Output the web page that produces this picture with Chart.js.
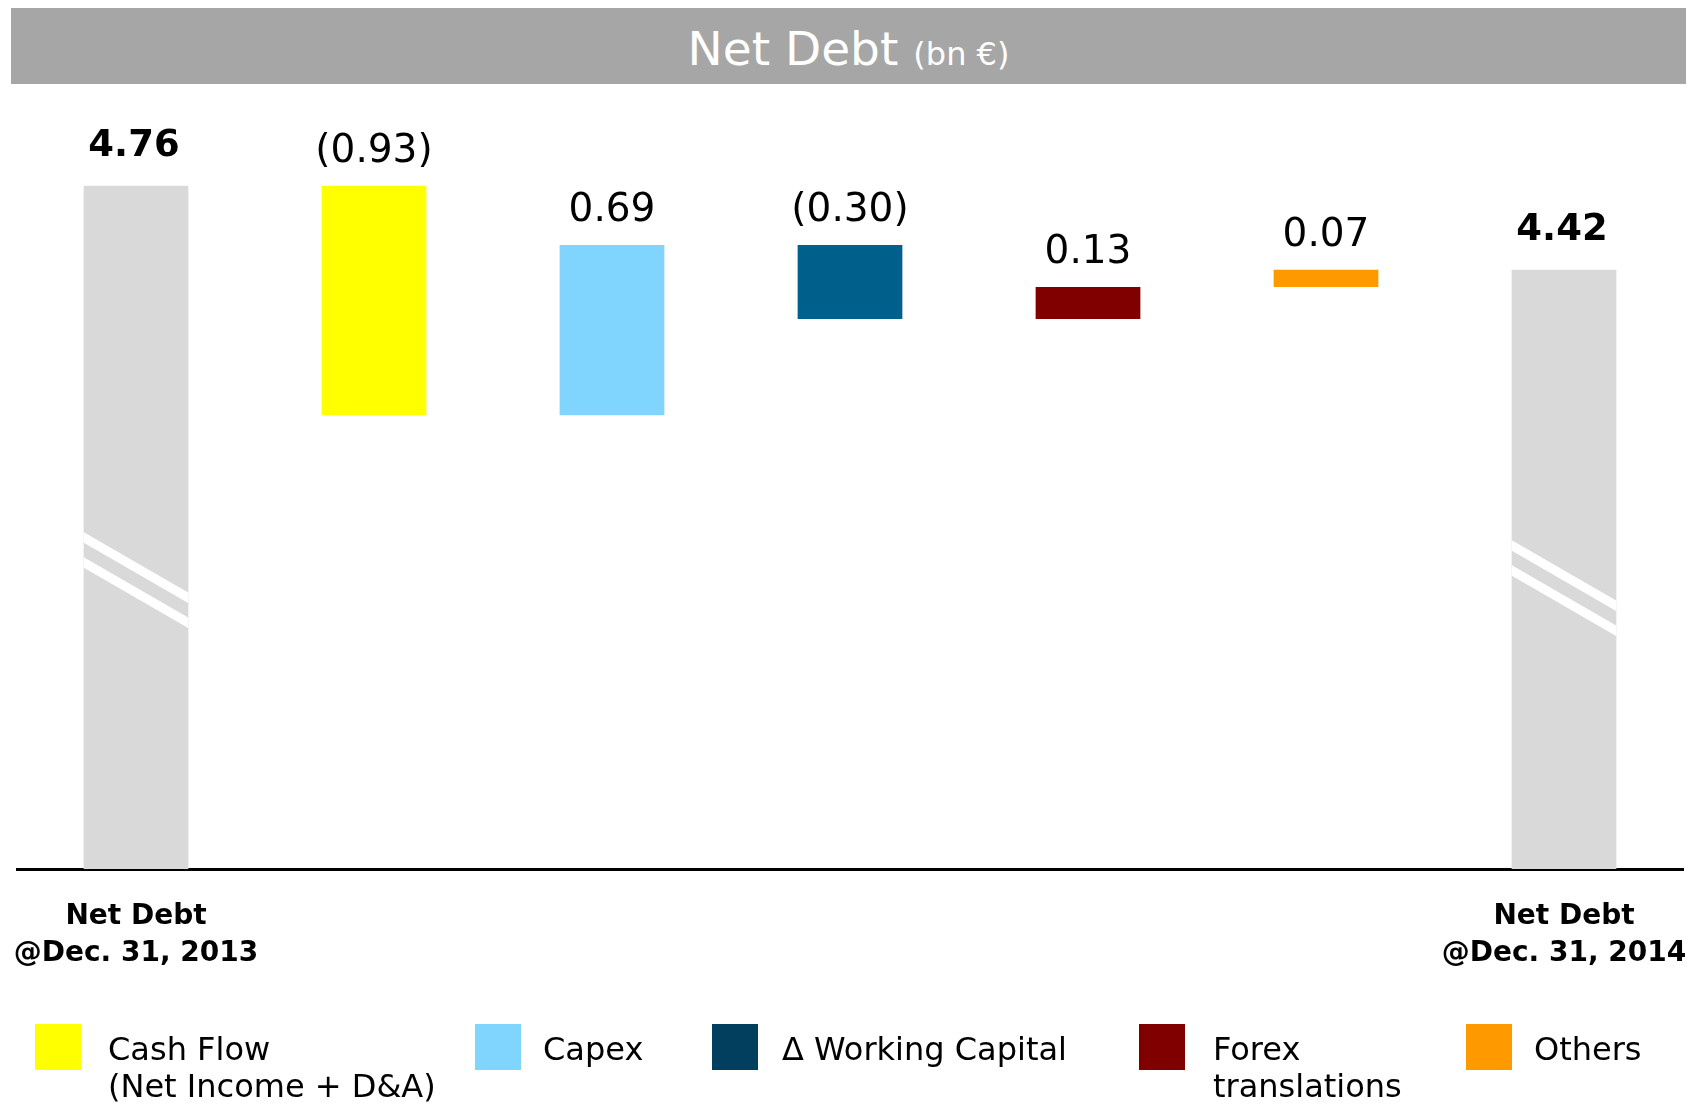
<!DOCTYPE html>
<html>
<head>
<meta charset="utf-8">
<script src="https://cdn.jsdelivr.net/npm/chart.js@4.4.1/dist/chart.umd.min.js"></script>
<style>
  html, body { margin:0; padding:0; background:#ffffff; }
  body { width:1704px; height:1106px; position:relative; overflow:hidden; font-family:"DejaVu Sans", Verdana, sans-serif; }
  #titleBar { position:absolute; left:11px; top:8px; width:1675px; height:76px; background:#A6A6A6; color:#ffffff; text-align:center; }
  #titleBar span.inner { position:relative; top:3px; line-height:76px; white-space:nowrap; }
  #titleBar .main { font-size:47px; }
  #titleBar .unit { font-size:32px; }
  #chartWrap { position:absolute; left:0; top:0; width:1704px; height:1106px; }
  .lg-box { position:absolute; top:1024px; width:46px; height:46px; }
  .lg-text { position:absolute; top:1031px; font-size:32px; line-height:37px; color:#000; white-space:nowrap; }
</style>
</head>
<body>
<div id="chartWrap"><canvas id="c" width="1704" height="1106"></canvas></div>
<div id="titleBar"><span class="inner"><span class="main">Net Debt </span><span class="unit">(bn €)</span></span></div>
<div id="legend"></div>
<script>
// ---- data ----
const categories = ['Net Debt @Dec. 31, 2013', 'Cash Flow', 'Capex', 'Δ Working Capital', 'Forex translations', 'Others', 'Net Debt @Dec. 31, 2014'];
const tickLabels = [['Net Debt', '@Dec. 31, 2013'], '', '', '', '', '', ['Net Debt', '@Dec. 31, 2014']];
const openingDebt = 4.76;
const changes = [-0.93, 0.69, -0.30, 0.13, 0.07];
const closingDebt = 4.42;
const valueLabels = ['4.76', '(0.93)', '0.69', '(0.30)', '0.13', '0.07', '4.42'];
const barColors = ['#D9D9D9', '#FFFF00', '#80D5FF', '#00608C', '#800000', '#FF9900', '#D9D9D9'];
const legendLabels = [['Cash Flow', '(Net Income + D&A)'], ['Capex'], ['Δ Working Capital'], ['Forex', 'translations'], ['Others']];
const legendColors = ['#FFFF00', '#80D5FF', '#023F5E', '#800000', '#FF9900'];
const axisMin = 1.99, axisMax = 5.1;

// ---- waterfall construction ----
const floating = [[0, openingDebt]];
let running = openingDebt;
changes.forEach(c => {
  const next = Math.round((running + c) * 100) / 100;
  floating.push([Math.min(running, next), Math.max(running, next)]);
  running = next;
});
floating.push([0, closingDebt]);
const isTotal = [true, false, false, false, false, false, true];

// ---- legend (HTML) ----
const legendBoxLeft = [35, 475, 712, 1139, 1466];
const legendTextLeft = [108, 543, 782, 1213, 1534];
const legendEl = document.getElementById('legend');
legendLabels.forEach((lines, i) => {
  const b = document.createElement('div');
  b.className = 'lg-box'; b.style.left = legendBoxLeft[i] + 'px'; b.style.background = legendColors[i];
  legendEl.appendChild(b);
  const t = document.createElement('div');
  t.className = 'lg-text'; t.style.left = legendTextLeft[i] + 'px';
  t.innerHTML = lines.map(s => s.replace(/&/g, '&amp;')).join('<br>');
  legendEl.appendChild(t);
});

// ---- plugins ----
const breakMarks = {
  id: 'breakMarks',
  afterDatasetsDraw(chart) {
    const ctx = chart.ctx;
    const meta = chart.getDatasetMeta(0);
    const bottom = chart.chartArea.bottom;
    const offsets = { 0: 337, 6: 329 };
    meta.data.forEach((bar, i) => {
      if (!isTotal[i]) return;
      const x0 = bar.x - bar.width / 2, x1 = bar.x + bar.width / 2;
      const drop = (x1 - x0) * 0.58;
      const y0 = bottom - offsets[i];
      ctx.save();
      ctx.beginPath(); ctx.rect(x0, chart.chartArea.top, x1 - x0, bottom - chart.chartArea.top); ctx.clip();
      ctx.fillStyle = '#ffffff';
      [0, 25].forEach(d => {
        const ys = y0 + d;
        ctx.beginPath();
        ctx.moveTo(x0 - 1, ys - 0.58);
        ctx.lineTo(x1 + 1, ys + drop + 0.58);
        ctx.lineTo(x1 + 1, ys + drop + 10.5 + 0.58);
        ctx.lineTo(x0 - 1, ys + 10.5 - 0.58);
        ctx.closePath();
        ctx.fill();
      });
      ctx.restore();
    });
  }
};

const valueLabelPlugin = {
  id: 'valueLabels',
  afterDatasetsDraw(chart) {
    const ctx = chart.ctx;
    const meta = chart.getDatasetMeta(0);
    ctx.save();
    ctx.textAlign = 'center';
    ctx.textBaseline = 'alphabetic';
    ctx.fillStyle = '#000000';
    meta.data.forEach((bar, i) => {
      const top = Math.min(bar.y, bar.base);
      if (isTotal[i]) {
        ctx.font = 'bold 37px "DejaVu Sans"';
        ctx.fillText(valueLabels[i], bar.x - 2, top - 30);
      } else {
        ctx.font = '39px "DejaVu Sans"';
        ctx.fillText(valueLabels[i], bar.x, top - 24);
      }
    });
    ctx.restore();
  }
};

new Chart(document.getElementById('c'), {
  type: 'bar',
  data: {
    labels: tickLabels,
    datasets: [{
      label: 'Net Debt',
      data: floating,
      backgroundColor: barColors,
      borderWidth: 0,
      borderSkipped: false,
      categoryPercentage: 1.0,
      barPercentage: 0.44
    }]
  },
  options: {
    responsive: false,
    animation: false,
    layout: { padding: { left: 17, right: 21, top: 102, bottom: 0 } },
    plugins: { legend: { display: false }, tooltip: { enabled: false }, title: { display: false } },
    scales: {
      y: { display: false, min: axisMin, max: axisMax },
      x: {
        grid: { display: false, drawTicks: false },
        border: { display: true, color: '#000000', width: 3 },
        ticks: {
          autoSkip: false, maxRotation: 0, minRotation: 0,
          color: '#000000', padding: 30,
          font: { family: '"DejaVu Sans"', size: 28, weight: 'bold', lineHeight: 1.3 }
        },
        afterFit(scale) { scale.height = 237; scale.paddingLeft = 0; scale.paddingRight = 0; }
      }
    }
  },
  plugins: [breakMarks, valueLabelPlugin]
});
</script>
</body>
</html>
